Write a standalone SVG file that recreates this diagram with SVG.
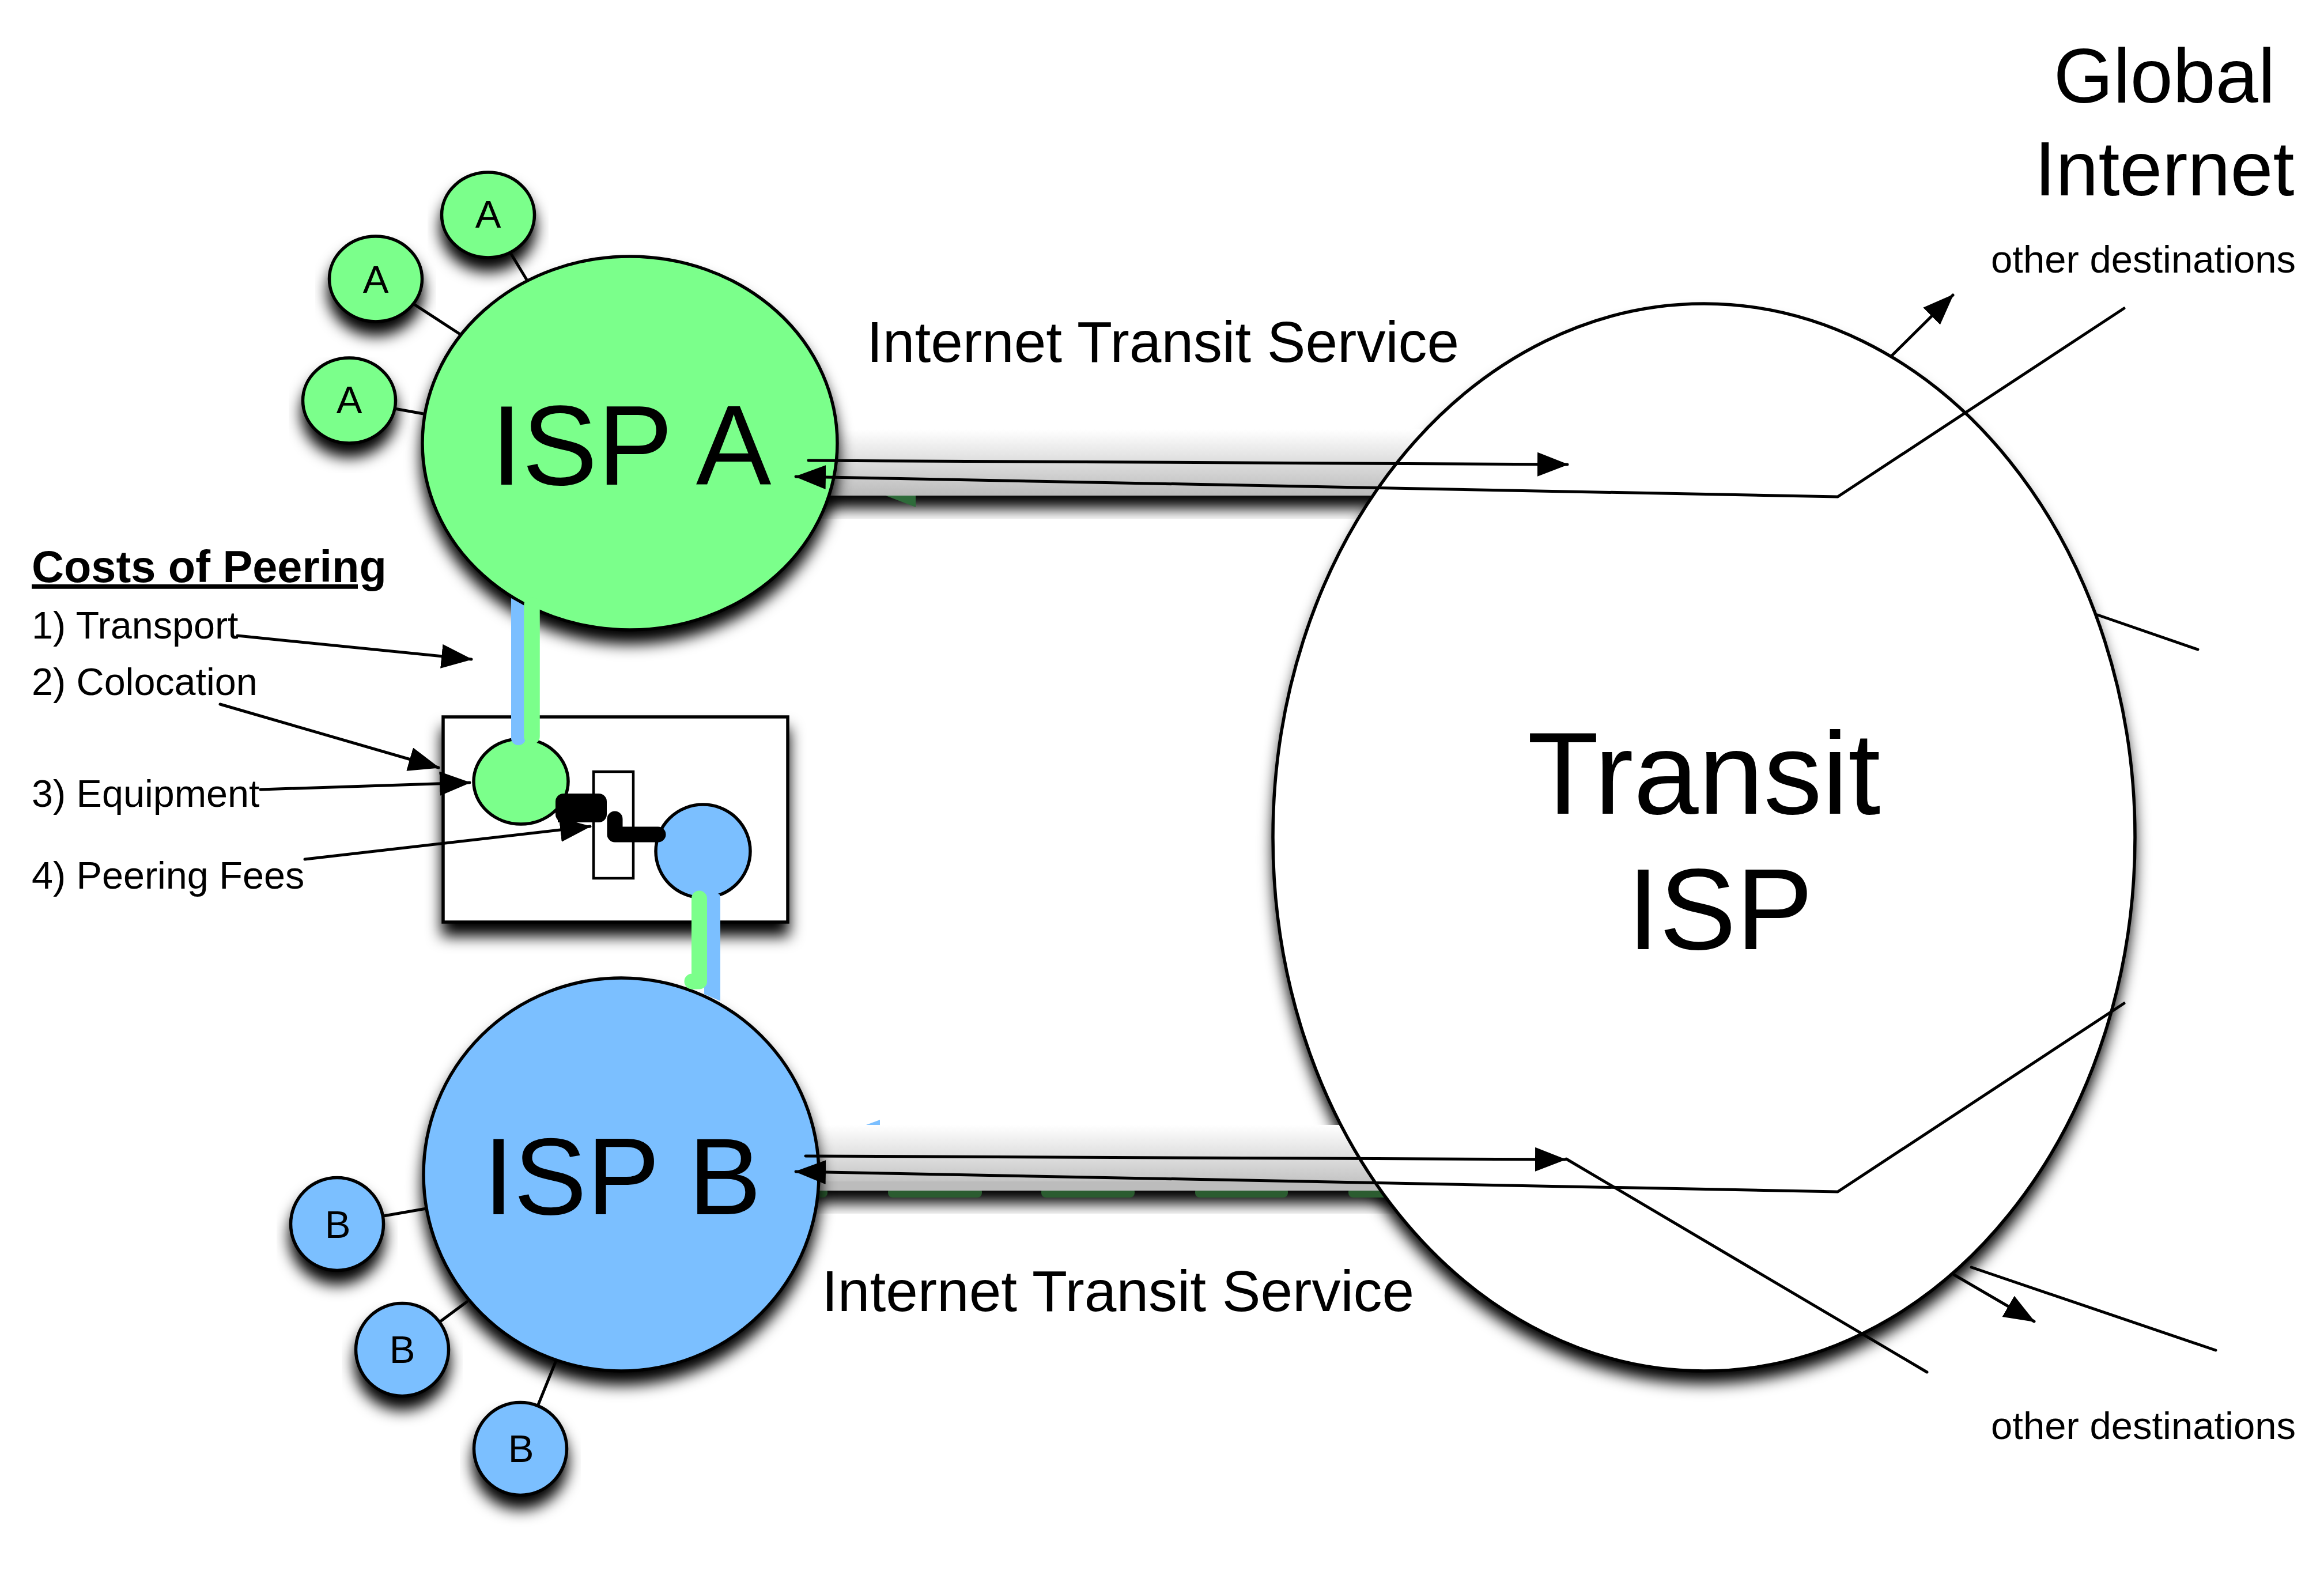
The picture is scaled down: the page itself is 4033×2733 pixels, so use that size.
<svg xmlns="http://www.w3.org/2000/svg" width="4033" height="2733" viewBox="0 0 4033 2733">
<style>
text{font-family:"Liberation Sans",Arial,sans-serif;fill:#000}
.n{stroke:#000;stroke-width:5.5}
.g{fill:#7BFF8B}.b{fill:#7BBFFF}.w{fill:#fff}
.s{filter:url(#sh)}
.l{stroke:#000;stroke-width:5;fill:none;stroke-linecap:round}
.a{marker-end:url(#ah)}
.big{font-size:196px}.lab{font-size:100px}.sm{font-size:67px}.sub{font-size:66.5px}
</style>
<defs>
<filter id="sh" x="-15%" y="-15%" width="130%" height="150%" color-interpolation-filters="sRGB"><feGaussianBlur in="SourceAlpha" stdDeviation="13"/><feOffset dy="22"/><feMerge><feMergeNode/><feMergeNode in="SourceGraphic"/></feMerge></filter>
<linearGradient id="bd" x1="0" y1="0" x2="0" y2="1"><stop offset="0" stop-color="#fff"/><stop offset="1" stop-color="#bbb"/></linearGradient>
<marker id="ah" markerUnits="userSpaceOnUse" markerWidth="58" markerHeight="46" refX="52" refY="21" orient="auto"><path d="M0,0L54,21L0,42z" fill="#000"/></marker>
</defs>
<g id="transit-shadow"><ellipse class="s w" cx="2957" cy="1453" rx="748" ry="926"/></g>
<g id="transit-links">
<rect id="band-a" class="s" x="1400" y="745" width="1120" height="115" fill="url(#bd)"/>
<polygon points="1537,860 1589,860 1589,880" fill="#2e6b3a"/>
<polygon points="1503,1952 1527,1952 1527,1943" class="b"/>
<rect id="band-b" class="s" x="1380" y="1952" width="1120" height="114" fill="url(#bd)"/>
<g fill="#2b5c30"><rect x="1400" y="2060" width="36" height="18" rx="8"/><rect x="1541" y="2060" width="163" height="18" rx="8"/><rect x="1807" y="2060" width="162" height="18" rx="8"/><rect x="2074" y="2060" width="161" height="18" rx="8"/><rect x="2340" y="2060" width="160" height="18" rx="8"/></g>
<rect x="1380" y="2050" width="1120" height="16" fill="#bcbcbc"/>
</g>
<g id="spokes" class="l">
<path d="M846,373L915,487M651,484L797,579M606,695L746,720M585,2124L746,2096M698,2342L810,2259M903,2514L965,2361"/>
</g>
<g id="node-transit"><ellipse class="n w" cx="2957" cy="1453" rx="748" ry="926"/><text style="font-size:203px" x="2957" y="1412" text-anchor="middle">Transit</text><text style="font-size:200px" x="2985" y="1647" text-anchor="middle">ISP</text></g>
<g id="node-colo"><rect class="n w s" x="769" y="1244" width="598" height="356"/></g>
<g id="node-colo-green"><ellipse class="n g" cx="904" cy="1356" rx="82" ry="74"/></g>
<g id="node-colo-blue"><ellipse class="n b" cx="1220" cy="1477" rx="82" ry="81"/></g>
<g id="node-switch"><rect x="1030" y="1339" width="69" height="185" class="w" stroke="#000" stroke-width="4.5"/></g>
<g id="peering-wires">
<rect x="964" y="1377" width="89" height="50" rx="14" fill="#000"/><rect x="968" y="1398" width="40" height="29" fill="#000"/>
<path d="M1067,1421V1448H1142" fill="none" stroke="#000" stroke-width="27" stroke-linecap="round" stroke-linejoin="round"/>
</g>
<g id="node-isp-a"><ellipse class="n g s" cx="1093" cy="769" rx="360" ry="324"/><text class="big" x="1095" y="841" text-anchor="middle">ISP A</text></g>
<g id="node-isp-b"><ellipse class="n b s" cx="1078" cy="2038" rx="343" ry="341"/><text style="font-size:190px" x="1080" y="2107" text-anchor="middle">ISP B</text></g>
<g id="peering-strips">
<path d="M887,1038L912,1052V1281a12.5,12,0,0,1,-25,0z" class="b"/>
<path d="M923,1050V1278" fill="none" stroke="#7BFF8B" stroke-width="27.5" stroke-linecap="round"/>
<path d="M1222,1556q0,-5,5,-5h18q5,0,5,5V1737L1222,1725z" class="b"/>
<path d="M1213.5,1559V1703H1201" fill="none" stroke="#7BFF8B" stroke-width="27" stroke-linecap="round" stroke-linejoin="round"/>
</g>
<g id="node-a1"><ellipse class="n g s" cx="847" cy="373" rx="80.5" ry="74"/><text class="sm" x="847" y="395" text-anchor="middle">A</text></g>
<g id="node-a2"><ellipse class="n g s" cx="652" cy="484" rx="80.5" ry="74"/><text class="sm" x="652" y="508" text-anchor="middle">A</text></g>
<g id="node-a3"><ellipse class="n g s" cx="606" cy="695" rx="80.5" ry="74"/><text class="sm" x="606" y="717" text-anchor="middle">A</text></g>
<g id="node-b1"><circle class="n b s" cx="585" cy="2124" r="80.5"/><text class="sm" x="586" y="2148" text-anchor="middle">B</text></g>
<g id="node-b2"><circle class="n b s" cx="698" cy="2342" r="80.5"/><text class="sm" x="698" y="2365" text-anchor="middle">B</text></g>
<g id="node-b3"><circle class="n b s" cx="903" cy="2514" r="80.5"/><text class="sm" x="904" y="2537" text-anchor="middle">B</text></g>
<g id="connectors" class="l">
<path class="a" d="M1403,799L2720,806"/>
<path class="a" d="M3686,535L3189,862L1381,827"/>
<path class="a" d="M1398,2006L2716,2012"/>
<path class="a" d="M3686,1741L3189,2068L1381,2033"/>
<path d="M2718,2011L3344,2381"/>
<path class="a" d="M3282,618L3389,512"/>
<path d="M3640,1067L3814,1127"/>
<path class="a" d="M3391,2212L3530,2293"/>
<path d="M3421,2199L3845,2343"/>
<path class="a" d="M412,1103L818,1144"/>
<path class="a" d="M382,1222L761,1332"/>
<path class="a" d="M452,1370L815,1358"/>
<path class="a" d="M529,1491L1024,1434"/>
</g>
<g id="labels">
<text x="55" y="1010" font-size="77.5" font-weight="bold" text-decoration="underline">Costs of Peering</text>
<text class="sub" x="55" y="1108">1) Transport</text>
<text class="sub" x="55" y="1206">2) Colocation</text>
<text class="sub" x="55" y="1400">3) Equipment</text>
<text class="sub" x="55" y="1542">4) Peering Fees</text>
<text class="lab" x="1504" y="628">Internet Transit Service</text>
<text class="lab" x="1426" y="2275">Internet Transit Service</text>
<text font-size="133" x="3756" y="178" text-anchor="middle">Global</text>
<text font-size="133" x="3756" y="339" text-anchor="middle">Internet</text>
<text class="sm" x="3984" y="473" text-anchor="end">other destinations</text>
<text class="sm" x="3984" y="2497" text-anchor="end">other destinations</text>
</g>
</svg>
